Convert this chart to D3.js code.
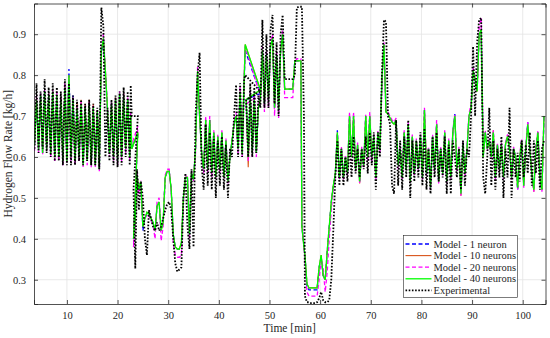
<!doctype html>
<html>
<head>
<meta charset="utf-8" />
<title>Hydrogen Flow Rate</title>
<script src="https://cdn.jsdelivr.net/npm/d3@7"></script>
<style>
  html, body { margin: 0; padding: 0; background: #fff; }
  svg { display: block; font-family: "Liberation Serif", "Times New Roman", serif; }
</style>
</head>
<body>
<script>
// sample times [min] (the recording overlaps itself near 23 and 45-48 min)
const time = [
  3.6,4.0,4.4,4.8,5.2,5.6,6.0,6.4,6.8,7.2,
  7.6,8.0,8.4,8.8,9.2,9.6,10.0,10.4,10.8,11.2,
  11.6,12.0,12.4,12.8,13.2,13.6,14.0,14.4,14.8,15.2,
  15.6,16.0,16.4,16.8,17.2,17.6,18.0,18.4,18.8,19.2,
  19.6,20.0,20.4,20.8,21.2,21.6,22.0,22.4,22.6,22.8,
  24.0,23.15,23.5,23.85,24.2,24.6,25.0,25.4,25.8,26.2,
  26.6,27.0,27.4,27.8,28.2,28.6,29.0,29.4,29.8,30.2,
  30.6,31.0,31.4,31.8,32.2,32.6,33.0,33.4,33.8,34.2,
  34.6,35.0,35.4,35.8,36.2,36.6,37.0,37.4,37.8,38.2,
  38.6,39.0,39.4,39.8,40.2,40.6,41.0,41.4,41.8,42.2,
  42.6,43.0,43.4,43.8,44.2,44.6,45.0,45.2,48.2,45.4,
  45.8,46.2,46.6,47.0,47.4,47.8,48.2,48.6,49.0,49.4,
  49.8,50.2,50.6,51.0,51.4,51.8,52.2,52.6,53.0,53.4,
  53.8,54.2,54.6,55.0,55.4,55.8,56.2,56.4,56.8,57.0,
  57.4,57.8,58.2,58.6,59.0,59.4,59.8,60.2,60.6,61.0,
  61.4,61.8,62.2,62.6,63.0,63.4,63.8,64.2,64.6,65.0,
  65.4,65.8,66.2,66.6,67.0,67.4,67.8,68.2,68.6,69.0,
  69.4,69.8,70.2,70.6,71.0,71.4,71.8,72.2,72.6,73.0,
  73.4,73.8,74.2,74.6,75.0,75.4,75.8,76.2,76.6,77.0,
  77.4,77.8,78.2,78.6,79.0,79.4,79.8,80.2,80.6,81.0,
  81.4,81.8,82.2,82.6,83.0,83.4,83.8,84.2,84.6,85.0,
  85.4,85.8,86.2,86.6,87.0,87.4,87.8,88.2,88.6,89.0,
  89.4,89.8,90.2,90.6,91.0,91.4,91.8,92.2,92.6,93.0,
  93.4,93.8,94.2,94.6,95.0,95.4,95.8,96.2,96.6,97.0,
  97.4,97.8,98.2,98.6,99.0,99.4,99.8,100.2,100.6,101.0,
  101.4,101.8,102.2,102.6,103.0,103.4,103.8,104.2
];

const experimental = [
  .62,.78,.61,.76,.62,.79,.61,.77,.60,.78,
  .59,.77,.59,.76,.58,.79,.58,.78,.58,.75,
  .58,.74,.59,.74,.58,.73,.59,.74,.58,.73,
  .58,.72,.57,.965,.92,.60,.72,.59,.74,.58,
  .75,.575,.76,.58,.77,.60,.76,.58,.775,.70,
  .70,.52,.327,.57,.47,.54,.50,.40,.36,.47,
  .45,.43,.42,.44,.42,.43,.45,.47,.485,.49,
  .47,.40,.34,.32,.325,.33,.50,.56,.43,.375,
  .57,.38,.70,.80,.855,.58,.52,.68,.53,.66,
  .52,.65,.50,.64,.53,.65,.52,.63,.50,.62,
  .60,.70,.776,.60,.78,.60,.79,.80,.76,.74,
  .60,.78,.60,.77,.61,.75,.72,.935,.72,.90,
  .72,.91,.947,.73,.88,.70,.90,.947,.79,.79,
  .79,.79,.79,.80,.965,.967,.967,.967,.70,.26,
  .245,.245,.243,.243,.243,.245,.255,.27,.25,.245,
  .245,.25,.30,.42,.55,.64,.53,.62,.53,.60,
  .54,.64,.55,.65,.56,.62,.55,.62,.57,.65,
  .56,.66,.58,.66,.52,.66,.60,.80,.935,.93,
  .70,.68,.53,.51,.69,.53,.64,.52,.65,.55,
  .69,.50,.64,.54,.64,.55,.66,.53,.67,.52,
  .62,.51,.65,.55,.66,.54,.62,.55,.65,.51,
  .63,.51,.64,.60,.55,.62,.52,.64,.53,.62,
  .60,.70,.87,.70,.88,.935,.94,.55,.51,.60,
  .72,.53,.64,.52,.62,.55,.65,.50,.62,.55,
  .72,.50,.62,.55,.61,.54,.64,.55,.63,.56,
  .66,.53,.64,.56,.64,.52,.62,.64
];

const model1 = [
  .63,.74,.62,.75,.61,.76,.62,.75,.61,.76,
  .60,.75,.60,.74,.59,.77,.59,.815,.60,.75,
  .59,.72,.60,.73,.58,.72,.59,.73,.58,.72,
  .58,.71,.57,.85,.89,.80,.72,.61,.73,.60,
  .74,.59,.755,.60,.75,.62,.74,.60,.70,.62,
  .66,.40,.45,.555,.52,.54,.42,.45,.46,.46,
  .45,.44,.42,.48,.49,.42,.44,.55,.565,.565,
  .52,.41,.38,.375,.375,.385,.50,.55,.55,.41,
  .56,.545,.62,.80,.70,.61,.57,.69,.57,.69,
  .56,.66,.55,.65,.57,.66,.55,.64,.54,.60,
  .64,.68,.70,.62,.76,.61,.78,.86,.755,.74,
  .60,.75,.61,.74,.61,.72,.74,.86,.73,.85,
  .74,.87,.89,.72,.85,.715,.86,.90,.766,.766,
  .766,.766,.766,.835,.835,.835,.835,.43,.38,.36,
  .285,.275,.275,.275,.275,.275,.33,.355,.31,.30,
  .37,.43,.49,.53,.56,.665,.55,.62,.55,.60,
  .56,.70,.60,.70,.57,.63,.54,.62,.58,.70,
  .60,.70,.60,.65,.55,.66,.62,.79,.875,.71,
  .705,.695,.685,.68,.69,.58,.62,.55,.66,.57,
  .68,.54,.65,.56,.64,.57,.65,.55,.715,.56,
  .62,.525,.65,.57,.68,.54,.62,.56,.66,.54,
  .64,.55,.66,.705,.57,.62,.51,.63,.56,.62,
  .70,.72,.81,.79,.76,.90,.91,.60,.66,.62,
  .64,.60,.66,.55,.63,.57,.63,.55,.63,.65,
  .62,.55,.62,.60,.52,.60,.64,.53,.62,.685,
  .62,.56,.52,.62,.66,.55,.52,.70
];

const model10 = [
  .63,.745,.62,.75,.61,.76,.62,.755,.61,.76,
  .60,.75,.60,.745,.59,.775,.59,.80,.60,.74,
  .59,.73,.60,.74,.58,.73,.59,.74,.58,.73,
  .58,.715,.57,.86,.89,.81,.72,.61,.73,.60,
  .745,.59,.755,.60,.755,.62,.74,.60,.70,.62,
  .66,.40,.45,.555,.52,.54,.43,.45,.465,.46,
  .45,.44,.42,.48,.49,.42,.44,.55,.565,.565,
  .52,.41,.38,.375,.375,.39,.50,.55,.55,.415,
  .56,.545,.62,.81,.70,.61,.57,.69,.57,.69,
  .56,.66,.55,.65,.57,.66,.55,.64,.54,.60,
  .64,.68,.70,.62,.76,.61,.79,.875,.764,.74,
  .575,.75,.61,.74,.61,.72,.74,.86,.73,.85,
  .74,.87,.89,.72,.85,.715,.86,.90,.766,.766,
  .766,.766,.766,.835,.835,.835,.835,.43,.38,.36,
  .29,.28,.28,.28,.28,.28,.33,.36,.31,.30,
  .37,.43,.49,.53,.56,.66,.55,.62,.55,.60,
  .56,.70,.60,.70,.57,.63,.535,.62,.58,.70,
  .60,.70,.60,.65,.55,.66,.62,.79,.875,.71,
  .705,.695,.685,.68,.69,.58,.62,.55,.66,.57,
  .68,.54,.65,.56,.64,.57,.65,.55,.715,.58,
  .62,.525,.65,.57,.68,.54,.62,.56,.66,.54,
  .64,.55,.66,.70,.57,.62,.505,.63,.56,.62,
  .70,.72,.81,.79,.76,.90,.91,.60,.66,.62,
  .64,.60,.665,.55,.63,.57,.63,.55,.63,.65,
  .62,.55,.62,.60,.525,.60,.64,.53,.62,.68,
  .62,.56,.515,.62,.66,.55,.52,.70
];

const model20 = [
  .615,.75,.61,.755,.605,.765,.615,.755,.60,.765,
  .59,.76,.59,.745,.58,.78,.585,.80,.59,.745,
  .58,.725,.59,.735,.575,.725,.58,.735,.575,.725,
  .575,.715,.565,.87,.90,.81,.72,.60,.735,.59,
  .745,.58,.76,.59,.755,.61,.745,.59,.71,.63,
  .675,.38,.44,.56,.51,.545,.44,.45,.46,.455,
  .445,.435,.40,.49,.50,.395,.43,.555,.57,.57,
  .51,.39,.36,.355,.355,.36,.49,.555,.55,.40,
  .565,.54,.61,.82,.71,.60,.56,.70,.56,.70,
  .55,.665,.545,.655,.56,.665,.545,.645,.535,.61,
  .63,.69,.71,.61,.77,.60,.80,.87,.75,.73,
  .59,.76,.60,.75,.60,.73,.735,.87,.71,.86,
  .72,.88,.90,.70,.86,.695,.87,.91,.745,.745,
  .745,.745,.745,.83,.84,.84,.84,.45,.38,.35,
  .27,.26,.26,.26,.26,.26,.30,.35,.33,.27,
  .32,.40,.47,.52,.55,.655,.545,.625,.545,.605,
  .555,.71,.59,.71,.565,.635,.535,.625,.575,.705,
  .59,.71,.59,.655,.545,.665,.61,.78,.88,.72,
  .71,.70,.69,.685,.695,.57,.625,.545,.665,.565,
  .685,.535,.655,.555,.645,.565,.655,.545,.72,.555,
  .625,.52,.655,.565,.69,.535,.625,.555,.665,.535,
  .645,.545,.665,.705,.565,.625,.505,.635,.555,.625,
  .705,.73,.82,.79,.77,.92,.94,.62,.665,.615,
  .645,.595,.665,.545,.635,.565,.635,.545,.635,.655,
  .625,.545,.625,.595,.52,.605,.645,.525,.625,.685,
  .625,.555,.515,.625,.665,.545,.515,.70
];

const model40 = [
  .63,.74,.62,.75,.61,.76,.62,.75,.61,.76,
  .60,.75,.60,.74,.59,.77,.59,.80,.60,.74,
  .59,.72,.60,.73,.58,.72,.59,.73,.58,.72,
  .58,.71,.57,.86,.89,.81,.72,.61,.73,.60,
  .74,.59,.755,.60,.75,.62,.74,.60,.70,.62,
  .66,.40,.45,.555,.52,.54,.43,.45,.465,.46,
  .45,.44,.42,.48,.49,.42,.44,.55,.565,.565,
  .52,.41,.38,.375,.375,.39,.50,.55,.55,.41,
  .56,.545,.62,.81,.70,.61,.57,.69,.57,.69,
  .56,.66,.55,.65,.57,.66,.55,.64,.54,.60,
  .64,.68,.70,.62,.76,.61,.79,.875,.764,.74,
  .60,.75,.61,.74,.61,.72,.74,.86,.73,.85,
  .74,.87,.89,.72,.85,.715,.86,.90,.766,.766,
  .766,.766,.766,.835,.835,.835,.835,.43,.38,.36,
  .29,.28,.28,.28,.28,.28,.33,.36,.31,.30,
  .37,.43,.49,.53,.56,.66,.55,.62,.55,.60,
  .56,.70,.60,.70,.57,.63,.54,.62,.58,.70,
  .60,.70,.60,.65,.55,.66,.62,.79,.875,.71,
  .705,.695,.685,.68,.69,.58,.62,.55,.66,.57,
  .68,.54,.65,.56,.64,.57,.65,.55,.715,.56,
  .62,.525,.65,.57,.68,.54,.62,.56,.66,.54,
  .64,.55,.66,.70,.57,.62,.51,.63,.56,.62,
  .70,.72,.81,.79,.76,.90,.91,.60,.66,.62,
  .64,.60,.66,.55,.63,.57,.63,.55,.63,.65,
  .62,.55,.62,.60,.525,.60,.64,.53,.62,.68,
  .62,.56,.52,.62,.66,.55,.52,.70
];

const xTicks = [10, 20, 30, 40, 50, 60, 70, 80, 90, 100];
const yTicks = [0.3, 0.4, 0.5, 0.6, 0.7, 0.8, 0.9];
const seriesNames = ["Model - 1 neuron", "Model - 10 neurons", "Model - 20 neurons", "Model - 40 neurons", "Experimental"];

const W = 550, H = 338;
const margin = {top: 3.5, right: 4.5, bottom: 34, left: 34};

const svg = d3.select("body").append("svg")
  .attr("width", W).attr("height", H);

const x = d3.scaleLinear().domain([3.5, 104.5]).range([margin.left, W - margin.right]);
const y = d3.scaleLinear().domain([0.2407, 0.975]).range([H - margin.bottom, margin.top]);

const axisColor = "#262626";

// grid
const grid = svg.append("g");
grid.selectAll(".gx").data(xTicks).join("line")
  .attr("x1", d => x(d)).attr("x2", d => x(d))
  .attr("y1", y.range()[0]).attr("y2", y.range()[1])
  .attr("stroke", "#e3e3e3").attr("stroke-width", 0.8);
grid.selectAll(".gy").data(yTicks).join("line")
  .attr("y1", d => y(d)).attr("y2", d => y(d))
  .attr("x1", x.range()[0]).attr("x2", x.range()[1])
  .attr("stroke", "#e3e3e3").attr("stroke-width", 0.8);

svg.append("clipPath").attr("id", "clip").append("rect")
  .attr("x", x.range()[0]).attr("y", y.range()[1])
  .attr("width", x.range()[1] - x.range()[0])
  .attr("height", y.range()[0] - y.range()[1]);

const n = Math.min(time.length, experimental.length, model1.length, model10.length, model20.length, model40.length);
const idx = d3.range(n);

const series = [
  {vals: model1, color: "#0000ff", width: 1.3, dash: "4,2.5"},
  {vals: model10, color: "#d95319", width: 1.1, dash: null},
  {vals: model20, color: "#ff00ff", width: 1.3, dash: "4,2.5"},
  {vals: model40, color: "#00ff00", width: 1.3, dash: null},
  {vals: experimental, color: "#000000", width: 1.8, dash: "1.6,1.6"}
];

const plot = svg.append("g").attr("clip-path", "url(#clip)");
series.forEach(s => {
  const line = d3.line().x(i => x(time[i])).y(i => y(s.vals[i]));
  plot.append("path")
    .attr("d", line(idx))
    .attr("fill", "none")
    .attr("stroke", s.color)
    .attr("stroke-width", s.width)
    .attr("stroke-dasharray", s.dash)
    .attr("stroke-linejoin", "miter")
    .attr("stroke-miterlimit", 2);
});

// axes (MATLAB style box, ticks inside)
const tickLen = 4;
const fmtY = d3.format(".1f");
const axBottom = svg.append("g").attr("transform", `translate(0,${y.range()[0]})`)
  .call(d3.axisBottom(x).tickValues(xTicks).tickSize(-tickLen).tickPadding(8));
const axTop = svg.append("g").attr("transform", `translate(0,${y.range()[1]})`)
  .call(d3.axisTop(x).tickValues(xTicks).tickSize(-tickLen).tickFormat(""));
const axLeft = svg.append("g").attr("transform", `translate(${x.range()[0]},0)`)
  .call(d3.axisLeft(y).tickValues(yTicks).tickSize(-tickLen).tickPadding(8).tickFormat(fmtY));
const axRight = svg.append("g").attr("transform", `translate(${x.range()[1]},0)`)
  .call(d3.axisRight(y).tickValues(yTicks).tickSize(-tickLen).tickFormat(""));

[axBottom, axTop, axLeft, axRight].forEach(g => {
  g.select(".domain").attr("stroke", axisColor).attr("stroke-width", 0.8);
  g.selectAll(".tick line").attr("stroke", axisColor).attr("stroke-width", 0.8);
  g.selectAll(".tick text").attr("fill", axisColor)
    .style("font-family", "'Liberation Serif', serif").style("font-size", "10.5px");
});

// axis labels
svg.append("text")
  .attr("x", (x.range()[0] + x.range()[1]) / 2).attr("y", 332)
  .attr("text-anchor", "middle").attr("fill", axisColor)
  .style("font-size", "11.5px").text("Time [min]");
svg.append("text")
  .attr("transform", `translate(12,${(y.range()[0] + y.range()[1]) / 2}) rotate(-90)`)
  .attr("text-anchor", "middle").attr("fill", axisColor)
  .style("font-size", "11.5px").text("Hydrogen Flow Rate [kg/h]");

// legend
const lg = svg.append("g").attr("transform", "translate(403.5,235.5)");
lg.append("rect").attr("width", 114).attr("height", 62)
  .attr("fill", "#fff").attr("stroke", axisColor).attr("stroke-width", 0.6);
series.forEach((s, k) => {
  const ly = 8.5 + k * 11.6;
  lg.append("line").attr("x1", 2).attr("x2", 28).attr("y1", ly).attr("y2", ly)
    .attr("stroke", s.color).attr("stroke-width", s.width)
    .attr("stroke-dasharray", s.dash);
  lg.append("text").attr("x", 30).attr("y", ly + 3.6)
    .attr("fill", axisColor).style("font-size", "10.5px").text(seriesNames[k]);
});
</script>
</body>
</html>
